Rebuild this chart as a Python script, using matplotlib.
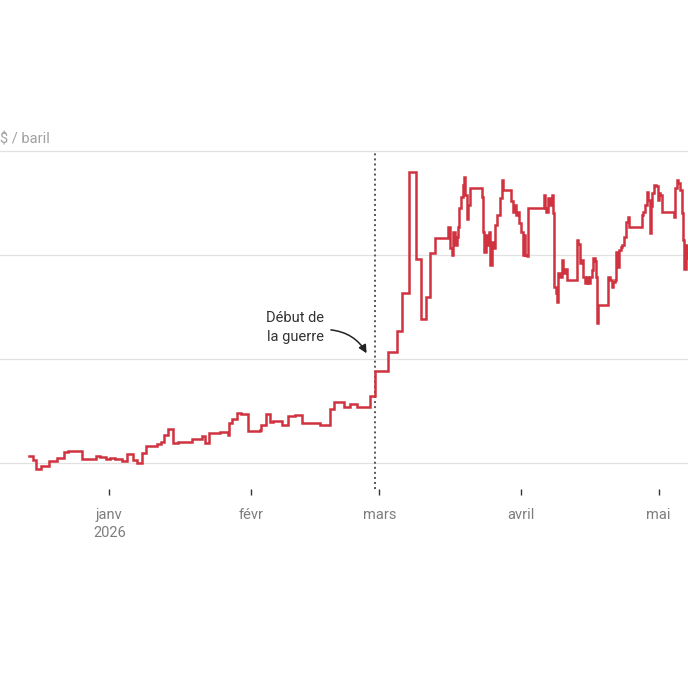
import numpy as np
import pandas as pd
import matplotlib
matplotlib.use("Agg")
import matplotlib.pyplot as plt
import matplotlib.dates as mdates
from matplotlib.transforms import blended_transform_factory

plt.rcParams['font.family'] = ['Roboto', 'DejaVu Sans']

# Days since 1 Jan 2026 and Brent price ($ / baril)
jours = [
    -17.5, -16.6, -16.0, -15.0, -13.1, -11.5, -9.9, -9.0, -6.0, -4.6,
    -2.9, -2.0, -0.7, 0.15, 1.2, 2.7, 3.9, 5.1, 6.0, 7.1,
    8.0, 10.4, 11.2, 11.9, 12.9, 14.0, 15.1, 18.0, 20.2, 20.9,
    21.8, 24.2, 25.9, 26.2, 26.9, 27.8, 28.7, 30.4, 32.9, 33.1,
    34.2, 35.0, 35.8, 37.7, 39.1, 40.6, 42.0, 46.0, 48.1, 49.1,
    51.3, 52.6, 54.0, 56.9, 58.0, 60.9, 62.9, 63.9, 65.5, 67.0,
    68.0, 69.1, 70.05, 71.1, 74.05, 74.4, 74.8, 75.1, 75.5, 75.9,
    76.2, 76.45, 76.8, 77.2, 77.5, 77.8, 78.1, 78.4, 78.8, 81.4,
    81.6, 81.9, 82.2, 82.6, 82.9, 83.2, 83.5, 83.9, 84.25, 84.75,
    85.3, 85.8, 86.1, 87.75, 88.1, 88.4, 88.85, 89.1, 89.6, 89.9,
    90.3, 90.6, 90.9, 91.2, 91.5, 95.0, 95.2, 95.5, 95.9, 96.3,
    96.6, 97.0, 97.2, 97.5, 97.7, 98.1, 98.45, 98.8, 99.2, 99.55,
    99.9, 102.1, 102.45, 102.8, 103.2, 103.5, 103.9, 104.3, 104.6, 105.0,
    105.4, 105.7, 106.1, 106.3, 106.6, 106.8, 109.0, 109.4, 109.7, 110.1,
    110.5, 110.7, 111.05, 111.3, 111.8, 112.1, 112.5, 112.9, 113.2, 113.5,
    116.3, 116.6, 117.0, 117.4, 117.7, 118.1, 118.3, 118.6, 119.05, 119.4,
    119.8, 120.1, 120.4, 120.8, 123.3, 123.6, 123.9, 124.3, 124.65, 125.0,
    125.4, 125.6, 125.9, 126.2, 126.5, 126.8, 127.5, 128.0,
]
prix = [
    61.3, 60.6, 58.8, 59.4, 60.4, 60.9, 62.2, 62.4, 60.7, 60.8,
    61.4, 61.1, 60.8, 61.0, 60.8, 60.4, 61.7, 60.6, 60.0, 62.0,
    63.3, 63.6, 64.0, 65.4, 66.5, 63.8, 64.0, 64.7, 65.2, 63.9,
    65.8, 66.0, 65.4, 67.6, 68.4, 69.6, 69.4, 66.2, 66.4, 67.3,
    69.4, 67.8, 68.0, 67.4, 69.0, 69.2, 67.6, 67.4, 70.3, 71.7,
    70.8, 71.4, 70.7, 72.9, 77.6, 81.4, 85.4, 92.6, 116.0, 99.2,
    87.7, 92.0, 100.4, 103.2, 105.4, 101.3, 100.0, 104.5, 102.0, 103.5,
    105.4, 109.0, 111.2, 113.5, 115.0, 111.5, 107.0, 109.6, 112.8, 111.2,
    104.5, 100.6, 103.8, 101.9, 104.5, 98.0, 102.5, 101.3, 105.8, 107.7,
    110.9, 114.4, 112.5, 110.3, 108.3, 109.6, 107.7, 108.3, 106.1, 104.5,
    100.0, 103.8, 100.0, 99.8, 109.0, 111.5, 109.0, 108.3, 110.9, 109.6,
    111.5, 108.0, 93.9, 92.6, 91.0, 96.5, 95.8, 99.0, 96.5, 97.4,
    95.2, 102.9, 102.2, 98.4, 99.0, 95.8, 94.6, 95.8, 94.6, 95.8,
    97.1, 99.4, 98.8, 95.8, 86.9, 90.4, 95.8, 95.2, 93.9, 94.9,
    95.2, 100.6, 97.7, 101.0, 101.6, 102.0, 103.5, 106.4, 107.4, 105.4,
    107.7, 108.3, 109.6, 112.2, 110.6, 104.2, 109.4, 111.9, 113.5, 113.2,
    110.6, 111.9, 111.6, 108.3, 107.4, 112.8, 114.4, 113.8, 112.5, 108.0,
    102.9, 97.4, 101.9, 101.0, 99.5, 100.5, 99.0, 99.0,
]

origine = pd.Timestamp('2026-01-01')
dates = origine + pd.to_timedelta(jours, unit='D')

debut_guerre = pd.Timestamp('2026-02-28')
tick_dates = pd.to_datetime(['2026-01-01', '2026-02-01', '2026-03-01', '2026-04-01', '2026-05-01'])
tick_labels = ['janv\n2026', 'févr', 'mars', 'avril', 'mai']
y_ticks = [60, 80, 100, 120]
unite = '$ / baril'
annotation = 'Début de\nla guerre'

W = H = 688
fig = plt.figure(figsize=(W / 100, H / 100), dpi=100)
ax_bottom_px, ax_top_px = 489, 130
ax = fig.add_axes([0, (H - ax_bottom_px) / H, 1, (ax_bottom_px - ax_top_px) / H])

px_per_day = 4.578
x0 = 109.3
xmin = origine + pd.Timedelta(days=(0 - x0) / px_per_day)
xmax = origine + pd.Timedelta(days=(W - x0) / px_per_day)
ax.set_xlim(xmin, xmax)
px_per_usd = 5.2
ax.set_ylim(60 - (ax_bottom_px - 463) / px_per_usd, 60 + (463 - ax_top_px) / px_per_usd)

for v in y_ticks:
    ax.axhline(v, color='#e2e2e2', lw=0.9, zorder=1)

ax.plot(dates, prix, drawstyle='steps-post', color='#d0323f', lw=1.8, zorder=3,
        solid_joinstyle='miter')

ax.plot([debut_guerre, debut_guerre], [55, 120], color='#555555', lw=1.4,
        linestyle=(0, (1, 1.6)), zorder=2, clip_on=False)

trans = blended_transform_factory(ax.transAxes, ax.transData)
ax.annotate(unite, xy=(0.5 / W, max(y_ticks)), xycoords=trans, xytext=(0, 8.5),
            textcoords='offset points', ha='left', va='center',
            fontsize=10.5, color='#a0a0a0')

ax.set_xticks(tick_dates)
ax.set_xticklabels(tick_labels, fontsize=10.5, color='#7d7d7d', linespacing=1.3)
ax.tick_params(axis='x', length=4, width=1.0, color='#333333', pad=10)
ax.set_yticks([])
for s in ax.spines.values():
    s.set_visible(False)

ax.text(origine + pd.Timedelta(days=40.6), 86.05, annotation,
        ha='center', va='center', fontsize=10.5, color='#333333', linespacing=1.4)
ax.annotate('', xy=(origine + pd.Timedelta(days=56.2), 81.1),
            xytext=(origine + pd.Timedelta(days=48.4), 85.6),
            arrowprops=dict(arrowstyle='-|>', color='#222222', lw=1.1,
                            connectionstyle='arc3,rad=-0.25',
                            shrinkA=0, shrinkB=0, mutation_scale=12))

fig.savefig('out.png', dpi=100, facecolor='white')
